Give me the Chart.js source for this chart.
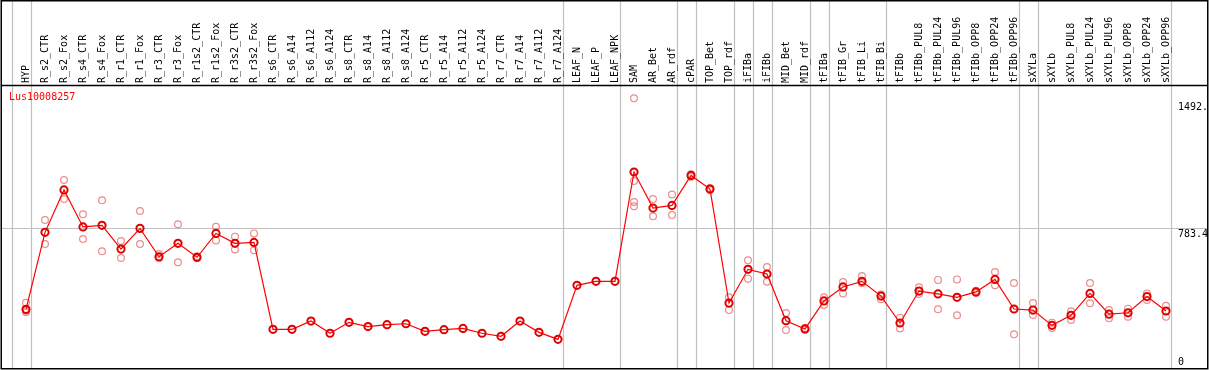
<!DOCTYPE html>
<html><head><meta charset="utf-8">
<script src="https://cdn.jsdelivr.net/npm/chart.js@4.4.0/dist/chart.umd.min.js"></script>
<style>html,body{margin:0;padding:0;background:#fff;overflow:hidden}#wrap{position:relative;width:1209px;height:370px}</style>
</head><body><div id="wrap"><canvas id="c" width="1209" height="370"></canvas></div>
<script>
const categories = ['HYP','R_s2_CTR','R_s2_Fox','R_s4_CTR','R_s4_Fox','R_r1_CTR','R_r1_Fox','R_r3_CTR','R_r3_Fox','R_r1s2_CTR','R_r1s2_Fox','R_r3s2_CTR','R_r3s2_Fox','R_s6_CTR','R_s6_A14','R_s6_A112','R_s6_A124','R_s8_CTR','R_s8_A14','R_s8_A112','R_s8_A124','R_r5_CTR','R_r5_A14','R_r5_A112','R_r5_A124','R_r7_CTR','R_r7_A14','R_r7_A112','R_r7_A124','LEAF_N','LEAF_P','LEAF_NPK','SAM','AR_Bet','AR_rdf','cPAR','TOP_Bet','TOP_rdf','iFIBa','iFIBb','MID_Bet','MID_rdf','tFIBa','tFIB_Gr','tFIB_Li','tFIB_Bi','tFIBb','tFIBb_PUL8','tFIBb_PUL24','tFIBb_PUL96','tFIBb_OPP8','tFIBb_OPP24','tFIBb_OPP96','sXYLa','sXYLb','sXYLb_PUL8','sXYLb_PUL24','sXYLb_PUL96','sXYLb_OPP8','sXYLb_OPP24','sXYLb_OPP96'];
const means = [332,761,997,791,800,668,783,625,700,622,755,700,705,221,221,267,199,260,236,247,252,210,219,226,199,182,267,204,165,466,488,488,1097,896,911,1078,1002,367,555,529,269,223,379,457,488,406,256,434,418,399,429,499,334,328,243,299,421,305,313,403,323];
const replicates = [[369,316,325],[830,696],[1052,946],[861,724],[939,655],[713,618],[880,696],[640,616],[806,594],[628,617],[792,716],[737,666],[755,661],[],[],[],[],[],[],[],[],[],[],[],[],[],[],[],[],[],[],[],[1507,1047,930,906],[946,850],[972,857],[1085,1070],[1008,996],[399,328],[605,503],[568,486],[312,217],[228,218],[399,356],[484,421],[518,478],[388,415],[286,226],[455,418],[496,332],[499,299],[435,423],[540,466],[479,193],[367,301],[258,228],[321,273],[479,366],[328,282],[336,291],[421,384],[352,291]];
const groupBreaks = [-1,0,28,31,34,35,37,38,39,41,42,45,52,53,60];
const yTickValues = [0, 783.4, 1492];
const yTickLabels = ['0','783.4','1492.'];
const geneName = 'Lus10008257';

const FONT = '10px "DejaVu Sans Mono", "Liberation Mono", monospace';
const GRID = '#c0c0c0';

const meanPts = means.map((v,i)=>({x:i,y:v}));
const repPts = [];
replicates.forEach((arr,i)=>arr.forEach(v=>repPts.push({x:i,y:v})));

const decor = {
  id:'decor',
  beforeDatasetsDraw(chart){
    const ctx=chart.ctx, xs=chart.scales.x, ys=chart.scales.y, a=chart.chartArea;
    ctx.save();
    ctx.strokeStyle=GRID; ctx.lineWidth=1.2;
    groupBreaks.forEach(b=>{
      const px=Math.round(xs.getPixelForValue(b+0.237))+0.5;
      ctx.beginPath(); ctx.moveTo(px,0); ctx.lineTo(px,a.bottom); ctx.stroke();
    });
    yTickValues.forEach((v,k)=>{
      if(yTickLabels[k]!=='783.4') return;
      const py=Math.round(ys.getPixelForValue(v))+0.5;
      ctx.beginPath(); ctx.moveTo(a.left,py); ctx.lineTo(a.right,py); ctx.stroke();
    });
    ctx.restore();
  },
  afterDraw(chart){
    const ctx=chart.ctx, xs=chart.scales.x, ys=chart.scales.y, a=chart.chartArea;
    ctx.save();
    ctx.fillStyle='#000'; ctx.font=FONT;
    categories.forEach((c,i)=>{
      const px=xs.getPixelForValue(i);
      ctx.save(); ctx.translate(px+0.5,83); ctx.rotate(-Math.PI/2);
      ctx.textAlign='left'; ctx.textBaseline='middle';
      ctx.fillText(c,0,0); ctx.restore();
    });
    ctx.textAlign='left'; ctx.textBaseline='top';
    yTickValues.forEach((v,k)=>{
      const py=Math.min(ys.getPixelForValue(v)+1, a.bottom-12);
      ctx.fillText(yTickLabels[k], 1178, py);
    });
    ctx.fillStyle='#ff0000';
    ctx.fillText(geneName, 9, 92);
    ctx.strokeStyle='#000'; ctx.lineWidth=1.5;
    ctx.beginPath(); ctx.moveTo(a.left,a.top+0.5); ctx.lineTo(a.right,a.top+0.5); ctx.stroke();
    ctx.strokeRect(1.25,0.75,1206.5,368);
    ctx.restore();
  }
};

new Chart(document.getElementById('c'),{
  type:'line',
  data:{datasets:[
    {type:'scatter',data:repPts,showLine:false,pointStyle:'circle',pointRadius:3.4,borderWidth:1.2,pointBorderColor:'rgba(232,120,120,0.85)',pointBackgroundColor:'rgba(0,0,0,0)',order:2},
    {data:meanPts,borderColor:'#ff0000',borderWidth:1.2,pointRadius:3.6,pointBorderWidth:2,pointBorderColor:'#e00000',pointBackgroundColor:'rgba(0,0,0,0)',tension:0,order:1}
  ]},
  options:{
    responsive:false,animation:false,devicePixelRatio:1,
    layout:{autoPadding:false,padding:{left:1,right:1,top:85,bottom:1}},
    plugins:{legend:{display:false},tooltip:{enabled:false}},
    scales:{
      x:{type:'linear',min:-1.3158,max:62.2105,display:false},
      y:{type:'linear',min:0,max:1581.3,display:false}
    },
    clip:false
  },
  plugins:[decor]
});
</script></body></html>
